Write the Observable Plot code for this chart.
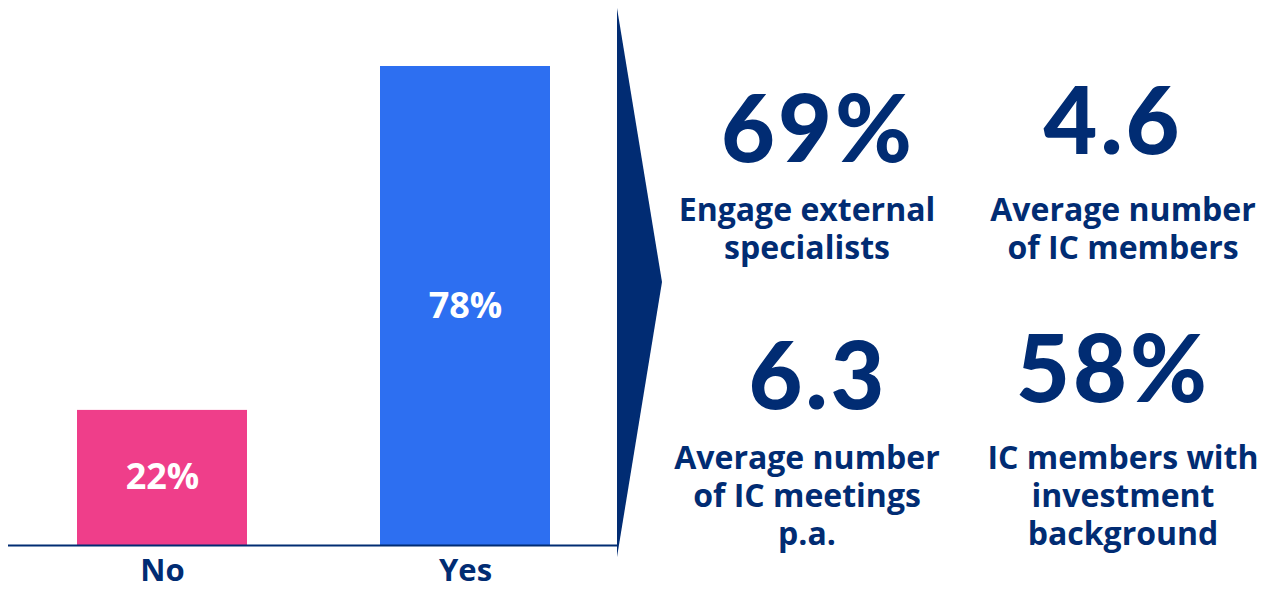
<!DOCTYPE html>
<html>
<head>
<meta charset="utf-8">
<script src="https://cdn.jsdelivr.net/npm/d3@7"></script>
<script src="https://cdn.jsdelivr.net/npm/@observablehq/plot@0.6"></script>
<style>
  html, body { margin: 0; padding: 0; background: #fff; }
  #wrap { position: relative; width: 1273px; height: 589px; overflow: hidden; font-family: "Open Sans", "Noto Sans", sans-serif; }
  #chart { position: absolute; left: 0; top: 0; }
  #arrow { position: absolute; left: 0; top: 0; }
  .stat { position: absolute; width: 320px; text-align: center; color: #012C73; white-space: nowrap; }
  .stat .big { font-family: "Lato", "Roboto", sans-serif; font-weight: 900; font-size: 93px; line-height: 92px; letter-spacing: 3px; }
  .stat .lbl { font-family: "Open Sans", "Noto Sans", sans-serif; font-weight: 700; font-size: 32px; line-height: 38px; }
</style>
</head>
<body>
<div id="wrap">
  <div id="chart"></div>
  <svg id="arrow" width="1273" height="589"><polygon points="617,8 662,282 617,557" fill="#012C73"/></svg>
</div>
<script>
const categories = ["No", "Yes"];
const values = [22, 78];
const barColors = ["#EF3E8A", "#2D6FF1"];
const statValues = ["69%", "4.6", "6.3", "58%"];
const statLabels = [
  ["Engage external", "specialists"],
  ["Average number", "of IC members"],
  ["Average number", "of IC meetings", "p.a."],
  ["IC members with", "investment", "background"]
];

const data = categories.map((c, i) => ({ cat: c, value: values[i], color: barColors[i] }));
const navy = "#012C73";

const plot = Plot.plot({
  width: 620,
  height: 589,
  marginLeft: 8,
  marginRight: 2,
  marginTop: 66,
  marginBottom: 44,
  style: { fontFamily: "'Open Sans', 'Noto Sans', sans-serif", background: "transparent", overflow: "visible" },
  x: { domain: categories, paddingInner: 0.44, paddingOuter: 0.224, label: null },
  y: { domain: [0, 78], axis: null },
  marks: [
    Plot.barY(data, { x: "cat", y: "value", fill: "color" }),
    Plot.ruleY([0], { stroke: navy, strokeWidth: 2 }),
    Plot.text(data, { x: "cat", y: d => d.value / 2, text: d => d.value + "%", fill: "white", fontSize: 36, fontWeight: 700 }),
    Plot.axisX({ tickSize: 0, tickPadding: 13, fontSize: 31, fontWeight: 700, color: navy, label: null })
  ]
});
document.getElementById("chart").appendChild(plot);

// stat blocks
const positions = [
  { left: 658, top: 80 },
  { left: 953, top: 72 },
  { left: 658, top: 327 },
  { left: 953, top: 320 }
];
const lblTops = [190, 190, 438, 438];
const wrap = document.getElementById("wrap");
statValues.forEach((v, i) => {
  const div = document.createElement("div");
  div.className = "stat";
  div.style.left = positions[i].left + "px";
  div.style.top = positions[i].top + "px";
  const big = document.createElement("div");
  big.className = "big";
  big.textContent = v;
  div.appendChild(big);
  wrap.appendChild(div);
  const ld = document.createElement("div");
  ld.className = "stat";
  ld.style.left = (i % 2 === 0 ? 647 : 963) + "px";
  ld.style.top = lblTops[i] + "px";
  statLabels[i].forEach(t => {
    const l = document.createElement("div");
    l.className = "lbl";
    l.textContent = t;
    ld.appendChild(l);
  });
  wrap.appendChild(ld);
});
</script>
</body>
</html>
